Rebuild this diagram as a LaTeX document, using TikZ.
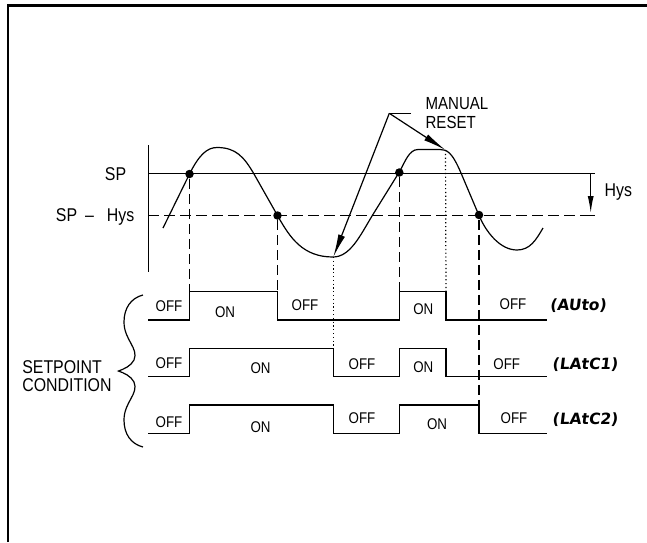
\documentclass[tikz,border=0pt]{standalone}
\usepackage{fontspec}
\setmainfont{Liberation Sans}[FakeStretch=0.86]
\newfontfamily\segfont{DejaVu Sans}[FakeSlant=0.12]
\usetikzlibrary{arrows.meta}

\tikzset{
  dot/.style={circle,fill=black,inner sep=0pt,minimum size=8.5pt},
  lbl/.style={inner sep=0pt,font=\fontsize{15.5}{17}\selectfont},
  big/.style={inner sep=0pt,font=\fontsize{18.5}{18.5}\selectfont},
  seg/.style={inner sep=0pt,font=\segfont\bfseries\fontsize{15.5}{17}\selectfont},
  wave/.style={line width=1.4pt},
  vdash/.style={line width=1.2pt,dash pattern=on 10pt off 5pt},
  vdot/.style={line width=1.2pt,dash pattern=on 1.2pt off 2.6pt},
  tip/.style={-{Latex[length=23pt,width=7pt]}},
}

\begin{document}
\begin{tikzpicture}[x=1pt,y=-1pt,line width=1.2pt]
\useasboundingbox (0,0) rectangle (647,542);
\draw[line width=2.2pt] (8,542) -- (8,5.5) -- (647,5.5);

\coordinate (ax1) at (148.3,145);
\coordinate (ax2) at (148.3,272);
\coordinate (sp1) at (148.3,173.5);
\coordinate (sp2) at (595,173.5);
\coordinate (hy1) at (148.3,215.5);
\coordinate (hy2) at (586,215.5);
\coordinate (hy3) at (595,215.5);
\coordinate (ha1) at (590.7,173.5);
\coordinate (ha2) at (590.7,213);
\draw (ax1) -- (ax2);
\draw (sp1) -- (sp2);
\draw[dash pattern=on 11pt off 5pt] (hy1) -- (hy2);
\draw (hy2) -- (hy3);
\draw[-{Latex[length=17pt,width=6pt]}] (ha1) -- (ha2);

\node[big] (sp) at (115.5,174) {SP};
\node[big,anchor=east] (sphys) at (135,216.5) {SP\hspace{8pt}--\hspace{13pt}Hys};
\node[big,anchor=west] (hys) at (604,191.7) {Hys};

% process value
\draw (163,228) -- (189.5,174) .. controls (199,155) and (207,147.5) .. (217,147.5)
  .. controls (236,147.5) and (244,157) .. (254,174) -- (277.5,215.5)
  .. controls (290,238) and (303,257) .. (333,257)
  .. controls (350,257) and (360,236) .. (372,216) -- (399.3,172)
  .. controls (405,162) and (409,149.5) .. (418,149.5) -- (440,149.5)
  .. controls (447,149.5) and (452,152) .. (461,173) -- (479,215.5)
  .. controls (486,232) and (500,250) .. (517,250)
  .. controls (530,250) and (536,240) .. (543,228);

\node[dot] (d1) at (189.5,174) {};
\node[dot] (d2) at (277.5,215.5) {};
\node[dot] (d3) at (399.3,172.5) {};
\node[dot] (d4) at (479,215) {};

\coordinate (e1) at (189.5,291.7);
\coordinate (e2) at (277.5,291.7);
\coordinate (e3) at (399.3,291.7);
\coordinate (e4) at (479,405);
\draw[vdash] (d1) -- (e1);
\draw[vdash] (d2) -- (e2);
\draw[vdash] (d3) -- (e3);
\draw[vdash] (d4) -- (e4);

% manual reset
\node[inner sep=0pt,font=\fontsize{17.5}{18.5}\selectfont,anchor=west,align=left] (mr) at (425,113.3) {MANUAL\\RESET};
\coordinate (mr1) at (411,113.3);
\coordinate (mr2) at (389.3,113.3);
\coordinate (tr1) at (333.3,257);
\coordinate (pk2) at (445.5,150);
\coordinate (f1) at (333.3,348.3);
\coordinate (f2) at (446,291.7);
\draw (mr1) -- (mr2);
\draw[tip] (mr2) -- (tr1);
\draw[tip] (mr2) -- (pk2);
\draw[vdot] (tr1) -- (f1);
\draw[vdot] (pk2) -- (f2);

% outputs
\draw[wave] (148.3,320) -| (189.5,291.7) -| (277.5,320) -| (399.3,291.7) -| (446,320) -- (546.7,320);
\draw[wave] (148.3,376.7) -| (189.5,348.3) -| (333.3,376.7) -| (399.3,348.3) -| (446,376.7) -- (546.7,376.7);
\draw[wave] (148.3,433.3) -| (189.5,405) -| (333.3,433.3) -| (399.3,405) -| (479,433.3) -- (546.7,433.3);

\node[lbl] (a1) at (169,306) {OFF};
\node[lbl] (a2) at (225,312) {ON};
\node[lbl] (a3) at (305,305.5) {OFF};
\node[lbl] (a4) at (423.3,309) {ON};
\node[lbl] (a5) at (513,304) {OFF};
\node[seg] (a6) at (578,305.5) {(AUto)};

\node[lbl] (b1) at (169,363.5) {OFF};
\node[lbl] (b2) at (260.5,368.5) {ON};
\node[lbl] (b3) at (362,364.5) {OFF};
\node[lbl] (b4) at (423.3,367) {ON};
\node[lbl] (b5) at (506.7,363.8) {OFF};
\node[seg] (b6) at (585,364.5) {(LAtC1)};

\node[lbl] (c1) at (169,422.5) {OFF};
\node[lbl] (c2) at (260.5,427.5) {ON};
\node[lbl] (c3) at (362,418) {OFF};
\node[lbl] (c4) at (437,424) {ON};
\node[lbl] (c5) at (514,418) {OFF};
\node[seg] (c6) at (585,420) {(LAtC2)};

% setpoint condition
\draw (143,295) .. controls (131,298) and (124,308) .. (124,322)
  .. controls (124,340) and (139,348) .. (134,360)
  .. controls (131,366) and (124,369) .. (118.5,371)
  .. controls (124,373) and (131,376) .. (134,382)
  .. controls (139,394) and (124,402) .. (124,420)
  .. controls (124,434) and (131,444) .. (143,447);
\node[big,anchor=west,align=left] (sc) at (21.7,376) {SETPOINT\\CONDITION};
\end{tikzpicture}
\end{document}
